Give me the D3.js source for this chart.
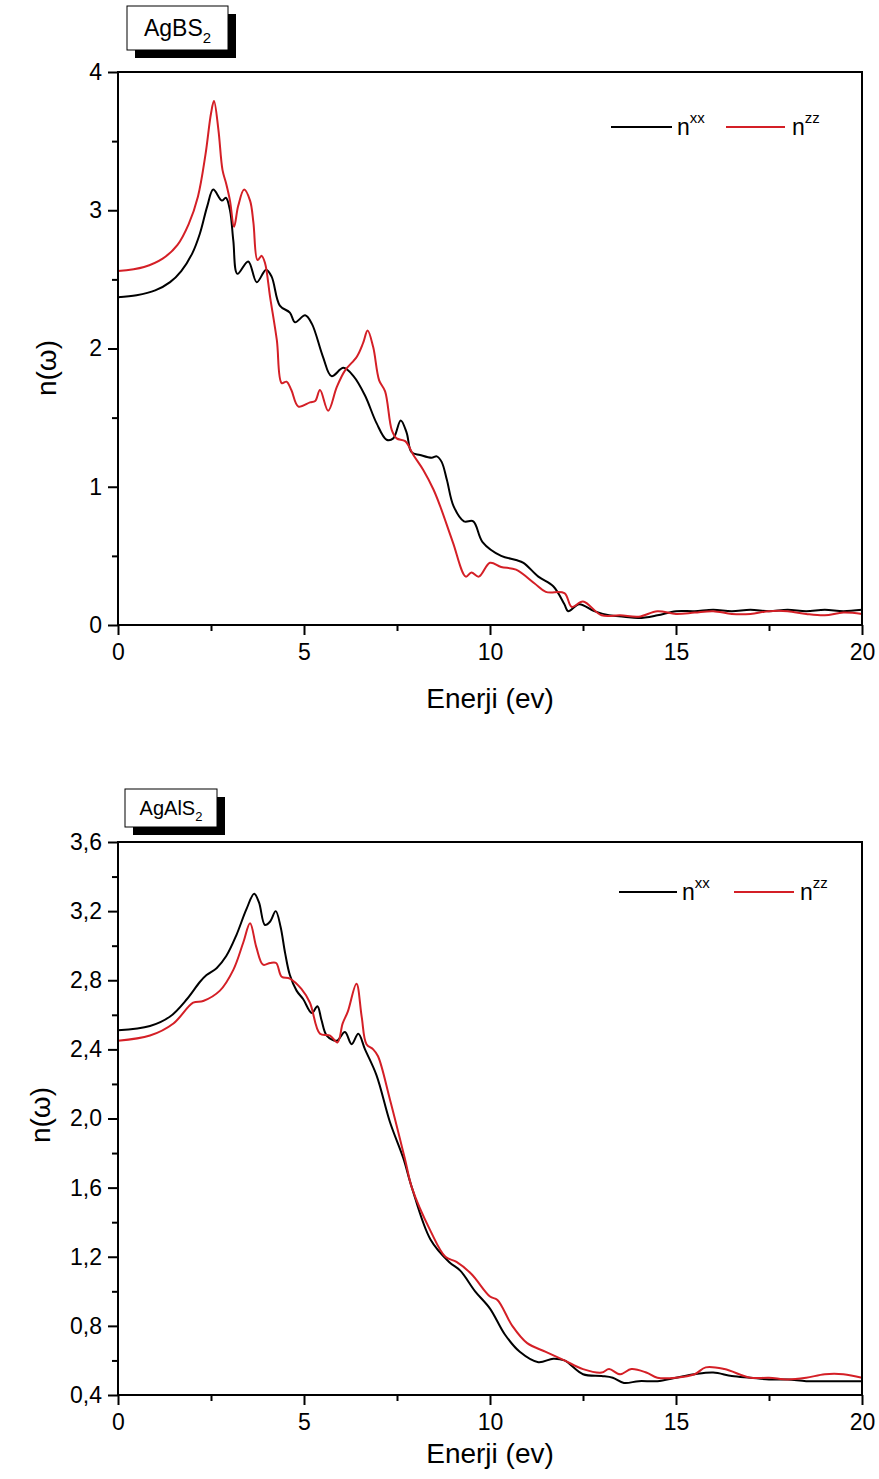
<!DOCTYPE html>
<html><head><meta charset="utf-8">
<script src="https://cdn.jsdelivr.net/npm/d3@7/dist/d3.min.js"></script>
<style>body{margin:0;background:#fff;}svg{display:block;font-family:"Liberation Sans",Arial,sans-serif;}</style>
</head><body>
<script>
// ---------- data ----------
const xTicks = [0, 5, 10, 15, 20];
const xMinor = [2.5, 7.5, 12.5, 17.5];
const topYTicks = [0, 1, 2, 3, 4];
const topYMinor = [0.5, 1.5, 2.5, 3.5];
const botYTicks = [0.4, 0.8, 1.2, 1.6, 2.0, 2.4, 2.8, 3.2, 3.6];
const botYMinor = [0.6, 1.0, 1.4, 1.8, 2.2, 2.6, 3.0, 3.4];
const seriesNames = ["xx", "zz"];

const agbsXX = [[0,2.37],[0.5,2.385],[1.0,2.42],[1.4,2.48],[1.7,2.56],[2.0,2.69],[2.2,2.83],[2.4,3.03],[2.56,3.15],[2.79,3.07],[2.9,3.09],[3.01,3.0],[3.1,2.78],[3.21,2.54],[3.5,2.63],[3.73,2.48],[3.98,2.57],[4.13,2.52],[4.35,2.31],[4.62,2.26],[4.76,2.19],[5.03,2.24],[5.21,2.18],[5.51,1.94],[5.74,1.8],[6.06,1.86],[6.33,1.8],[6.64,1.66],[6.95,1.46],[7.22,1.34],[7.4,1.35],[7.6,1.48],[7.76,1.39],[7.89,1.25],[8.12,1.23],[8.43,1.21],[8.57,1.22],[8.7,1.18],[8.84,1.05],[9.02,0.86],[9.3,0.75],[9.55,0.75],[9.8,0.6],[10.3,0.5],[10.7,0.47],[10.9,0.45],[11.3,0.35],[11.7,0.28],[12.0,0.15],[12.1,0.1],[12.4,0.15],[12.8,0.1],[13.2,0.07],[13.6,0.06],[14.0,0.05],[14.5,0.07],[15.0,0.1],[15.5,0.1],[16.0,0.11],[16.5,0.1],[17.0,0.11],[17.5,0.1],[18.0,0.11],[18.5,0.1],[19.0,0.11],[19.5,0.1],[20.0,0.11]];
const agbsZZ = [[0,2.56],[0.7,2.59],[1.2,2.65],[1.6,2.75],[1.9,2.9],[2.15,3.1],[2.35,3.4],[2.5,3.7],[2.58,3.79],[2.7,3.58],[2.81,3.29],[2.91,3.19],[3.01,3.07],[3.12,2.88],[3.23,3.03],[3.39,3.15],[3.55,3.07],[3.64,2.91],[3.75,2.64],[3.86,2.67],[3.95,2.62],[4.09,2.37],[4.27,2.06],[4.4,1.75],[4.53,1.76],[4.66,1.7],[4.85,1.58],[5.16,1.61],[5.3,1.62],[5.43,1.7],[5.65,1.55],[5.88,1.72],[6.1,1.84],[6.42,1.94],[6.59,2.04],[6.71,2.13],[6.86,2.01],[7.02,1.77],[7.18,1.69],[7.36,1.41],[7.49,1.35],[7.72,1.33],[7.94,1.23],[8.21,1.12],[8.48,0.98],[8.66,0.86],[9.0,0.6],[9.35,0.35],[9.5,0.38],[9.7,0.35],[10.0,0.45],[10.3,0.42],[10.7,0.4],[11.2,0.3],[11.5,0.24],[12.0,0.23],[12.2,0.13],[12.5,0.17],[13.0,0.07],[13.5,0.07],[14.0,0.06],[14.5,0.1],[15.0,0.08],[15.5,0.09],[16.0,0.1],[16.5,0.08],[17.0,0.08],[17.5,0.1],[18.0,0.1],[18.5,0.08],[19.0,0.07],[19.5,0.09],[20.0,0.08]];

const agalsXX = [[0,2.51],[0.86,2.535],[1.4,2.59],[1.85,2.69],[2.2,2.79],[2.38,2.83],[2.65,2.87],[2.91,2.94],[3.18,3.06],[3.45,3.21],[3.66,3.3],[3.79,3.25],[3.95,3.12],[4.09,3.14],[4.24,3.2],[4.37,3.11],[4.49,2.96],[4.62,2.83],[4.8,2.74],[4.98,2.69],[5.21,2.61],[5.36,2.65],[5.47,2.57],[5.61,2.48],[5.88,2.45],[6.1,2.5],[6.28,2.43],[6.46,2.49],[6.64,2.4],[6.95,2.25],[7.31,1.98],[7.67,1.77],[7.9,1.6],[8.4,1.3],[8.9,1.17],[9.2,1.12],[9.6,1.0],[10.0,0.9],[10.4,0.75],[10.8,0.65],[11.3,0.59],[11.7,0.61],[12.0,0.6],[12.5,0.52],[13.0,0.51],[13.3,0.5],[13.6,0.47],[14.0,0.48],[14.5,0.48],[15.0,0.5],[15.5,0.52],[16.0,0.53],[16.5,0.51],[17.0,0.5],[17.5,0.49],[18.0,0.49],[18.5,0.48],[19.0,0.48],[19.5,0.48],[20.0,0.48]];
const agalsZZ = [[0,2.45],[0.86,2.48],[1.49,2.55],[2.02,2.67],[2.29,2.68],[2.74,2.74],[3.1,2.86],[3.37,3.02],[3.55,3.13],[3.72,2.99],[3.9,2.89],[4.09,2.9],[4.25,2.9],[4.4,2.82],[4.62,2.81],[4.93,2.75],[5.16,2.67],[5.43,2.49],[5.7,2.48],[5.9,2.44],[6.04,2.55],[6.18,2.62],[6.41,2.78],[6.55,2.59],[6.68,2.43],[6.86,2.4],[6.99,2.36],[7.31,2.11],[7.72,1.76],[7.9,1.6],[8.4,1.35],[8.8,1.2],[9.1,1.17],[9.5,1.1],[10.0,0.97],[10.2,0.95],[10.6,0.8],[11.0,0.7],[11.5,0.65],[12.0,0.6],[12.5,0.55],[13.0,0.53],[13.2,0.55],[13.5,0.52],[13.8,0.55],[14.2,0.53],[14.5,0.5],[15.0,0.5],[15.5,0.52],[15.8,0.56],[16.3,0.55],[17.0,0.5],[17.5,0.5],[18.0,0.49],[18.5,0.5],[19.0,0.52],[19.5,0.52],[20.0,0.5]];

const panels = [
  {label:"AgBS", top:72, bottom:625, yDomain:[0,4], yTicks:topYTicks, yMinor:topYMinor, fmt:d=>String(d), xx:agbsXX, zz:agbsZZ,
   box:{x:127,y:6,w:101,h:44,fs:23,sh:8}, leg:{y:127,x1:611,x2:672,nx:677,rx1:726,rx2:785,rnx:792}, ytitleY:368, ytitleX:56, xtitleY:708},
  {label:"AgAlS", top:842, bottom:1395, yDomain:[0.4,3.6], yTicks:botYTicks, yMinor:botYMinor, fmt:d=>d.toFixed(1).replace(".",","), xx:agalsXX, zz:agalsZZ,
   box:{x:125,y:789,w:92,h:38,fs:20,sh:8}, leg:{y:892,x1:619,x2:677,nx:682,rx1:734,rx2:794,rnx:800}, ytitleY:1115, ytitleX:50, xtitleY:1463}
];
const colors = {xx:"#000000", zz:"#d41f26"};

const W = 879, H = 1479, L = 118, R = 862;
const svg = d3.select("body").append("svg").attr("width", W).attr("height", H);

panels.forEach(p => {
  const x = d3.scaleLinear().domain([0,20]).range([L,R]);
  const y = d3.scaleLinear().domain(p.yDomain).range([p.bottom,p.top]);
  const g = svg.append("g");

  // curves
  const line = d3.line().x(d=>x(d[0])).y(d=>y(d[1])).curve(d3.curveCatmullRom.alpha(0.5));
  g.append("path").datum(p.xx).attr("d", line).attr("fill","none").attr("stroke",colors.xx).attr("stroke-width",2);
  g.append("path").datum(p.zz).attr("d", line).attr("fill","none").attr("stroke",colors.zz).attr("stroke-width",2);

  // frame
  g.append("rect").attr("x",L).attr("y",p.top).attr("width",R-L).attr("height",p.bottom-p.top)
    .attr("fill","none").attr("stroke","#000").attr("stroke-width",2);

  // axes
  g.append("g").attr("transform",`translate(0,${p.bottom})`)
    .call(d3.axisBottom(x).tickValues(xTicks).tickSize(10).tickPadding(9).tickFormat(d=>String(d)));
  g.append("g").attr("transform",`translate(0,${p.bottom})`)
    .call(d3.axisBottom(x).tickValues(xMinor).tickSize(6).tickFormat(""));
  g.append("g").attr("transform",`translate(${L},0)`)
    .call(d3.axisLeft(y).tickValues(p.yTicks).tickSize(10).tickPadding(6).tickFormat(p.fmt));
  g.append("g").attr("transform",`translate(${L},0)`)
    .call(d3.axisLeft(y).tickValues(p.yMinor).tickSize(6).tickFormat(""));
  g.selectAll(".domain").remove();
  g.selectAll(".tick line").attr("stroke","#000").attr("stroke-width",2);
  g.selectAll(".tick text").attr("font-size",23).attr("fill","#000").attr("font-family",'"Liberation Sans",Arial,sans-serif');

  // titles
  g.append("text").attr("x",(L+R)/2).attr("y",p.xtitleY).attr("text-anchor","middle")
    .attr("font-size",28).text("Enerji (ev)");
  g.append("text").attr("transform",`translate(${p.ytitleX},${p.ytitleY}) rotate(-90)`)
    .attr("text-anchor","middle").attr("font-size",28).text("n(ω)");

  // label box
  const b = p.box;
  g.append("rect").attr("x",b.x+b.sh).attr("y",b.y+b.sh).attr("width",b.w).attr("height",b.h).attr("fill","#000");
  g.append("rect").attr("x",b.x).attr("y",b.y).attr("width",b.w).attr("height",b.h).attr("fill","#fff").attr("stroke","#000").attr("stroke-width",1);
  const t = g.append("text").attr("x",b.x+b.w/2).attr("y",b.y+b.h/2+b.fs*0.36).attr("text-anchor","middle").attr("font-size",b.fs);
  t.append("tspan").text(p.label);
  t.append("tspan").attr("font-size",b.fs*0.65).attr("dy",b.fs*0.3).text("2");

  // legend
  const lg = p.leg;
  [["xx",lg.x1,lg.x2,lg.nx],["zz",lg.rx1,lg.rx2,lg.rnx]].forEach(([k,a,c,nx]) => {
    g.append("line").attr("x1",a).attr("x2",c).attr("y1",lg.y).attr("y2",lg.y).attr("stroke",colors[k]).attr("stroke-width",2);
    const lt = g.append("text").attr("x",nx).attr("y",lg.y+8).attr("font-size",23);
    lt.append("tspan").text("n");
    lt.append("tspan").attr("font-size",15).attr("dy",-12).text(k);
  });
});
</script>
</body></html>
